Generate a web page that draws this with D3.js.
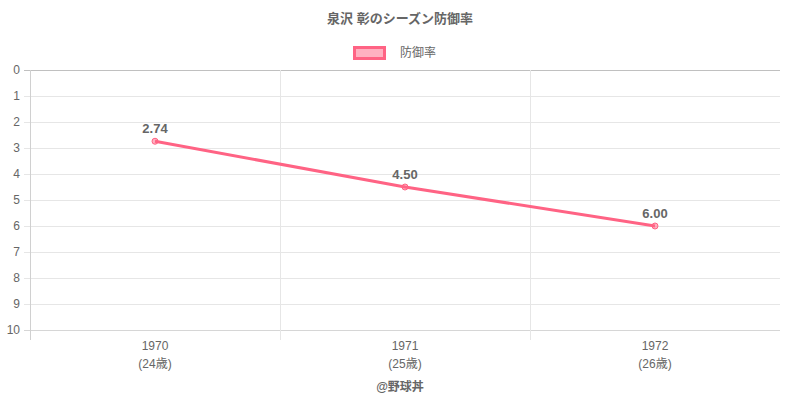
<!DOCTYPE html>
<html><head><meta charset="utf-8">
<script src="https://cdn.jsdelivr.net/npm/d3@7"></script>
<style>
body{margin:0;background:#fff;}
svg{display:block;font-family:"Helvetica Neue",Helvetica,Arial,"Liberation Sans","Noto Sans CJK JP",sans-serif;}
</style></head><body>
<svg id="c" width="800" height="400"></svg>
<script>
const title = "泉沢 彰のシーズン防御率";
const seriesName = "防御率";
const years = ["1970","1971","1972"];
const ages = ["(24歳)","(25歳)","(26歳)"];
const era = [2.74, 4.50, 6.00];
const yTicks = [0,1,2,3,4,5,6,7,8,9,10];
const credit = "@野球丼";

const svg = d3.select("#c");
const L=30,R=780,T=70,B=330;
const x = d3.scaleBand().domain(years).range([L,R]);
const y = d3.scaleLinear().domain([0,10]).range([T,B]);
const grid="#e6e6e6", txt="#666", col="#ff6384";

// horizontal grid
svg.append("g").selectAll("line").data(yTicks).join("line")
  .attr("x1",L-6).attr("x2",R).attr("y1",d=>y(d)+0.5).attr("y2",d=>y(d)+0.5)
  .attr("stroke",d=>d===0?"#c0c0c0":(d===10?"#d6d6d6":grid)).attr("stroke-width",1);
// vertical grid
const vx = years.map(d=>x(d));
svg.append("g").selectAll("line").data(vx).join("line")
  .attr("x1",d=>d+0.5).attr("x2",d=>d+0.5).attr("y1",T).attr("y2",B+10)
  .attr("stroke",(d,i)=>i===0?"#d0d0d0":grid).attr("stroke-width",1);

// y labels
svg.append("g").selectAll("text").data(yTicks).join("text")
  .attr("x",L-10).attr("y",d=>y(d)).attr("dy","0.35em").attr("text-anchor","end")
  .attr("fill",txt).style("font-size","12px").text(d=>d);

// x labels
const xl = svg.append("g");
xl.selectAll("text.yr").data(years).join("text").attr("class","yr")
  .attr("x",d=>x(d)+x.bandwidth()/2).attr("y",B+20).attr("text-anchor","middle")
  .attr("fill",txt).style("font-size","12px").text(d=>d);
xl.selectAll("text.age").data(ages).join("text").attr("class","age")
  .attr("x",(d,i)=>x(years[i])+x.bandwidth()/2).attr("y",B+38).attr("text-anchor","middle")
  .attr("fill",txt).style("font-size","12px").text(d=>d);

// line
const cx = (d,i)=>x(years[i])+x.bandwidth()/2;
svg.append("path").datum(era)
  .attr("d",d3.line().x(cx).y(d=>y(d)))
  .attr("fill","none").attr("stroke",col).attr("stroke-width",3);
svg.append("g").selectAll("circle").data(era).join("circle")
  .attr("cx",cx).attr("cy",d=>y(d)).attr("r",3)
  .attr("fill","rgba(255,99,132,0.5)").attr("stroke",col).attr("stroke-width",1);
svg.append("g").selectAll("text").data(era).join("text")
  .attr("x",cx).attr("y",d=>y(d)-8).attr("text-anchor","middle")
  .attr("fill",txt).style("font-size","13px").style("font-weight","bold")
  .text(d=>d.toFixed(2));

// title
svg.append("text").attr("x",400).attr("y",23).attr("text-anchor","middle")
  .attr("fill",txt).style("font-size","13px").style("font-weight","bold").text(title);
// legend
svg.append("rect").attr("x",354.5).attr("y",47.5).attr("width",30).attr("height",11)
  .attr("fill","rgba(255,99,132,0.5)").attr("stroke",col).attr("stroke-width",3);
svg.append("text").attr("x",400).attr("y",53).attr("dy","0.35em")
  .attr("fill",txt).style("font-size","12px").text(seriesName);
// credit
svg.append("text").attr("x",400).attr("y",391).attr("text-anchor","middle")
  .attr("fill",txt).style("font-size","12px").style("font-weight","bold").text(credit);
</script></body></html>
